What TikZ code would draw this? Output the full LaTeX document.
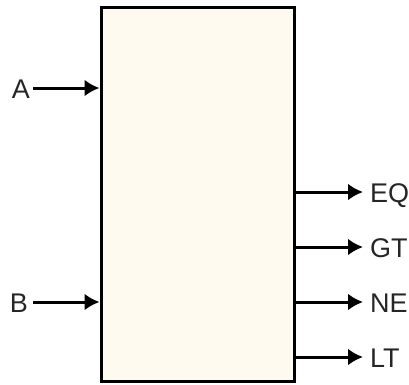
\documentclass[tikz,border=0pt]{standalone}
\usepackage{fontspec}
\setmainfont{Liberation Sans}
\usepackage{tikz}
\usetikzlibrary{arrows.meta,positioning}
\definecolor{boxfill}{RGB}{255,250,240}
\tikzset{
	every node/.style={
		font=\fontsize{27}{30}\selectfont,
		text=black!85
	},
	block/.style={
		shape=rectangle,
		minimum width=193pt,
		minimum height=374pt,
		fill=boxfill,
		draw,
		line width=3pt,
		inner sep=0pt
	},
	pinlabel/.style={
		inner sep=0pt,
		text height=20pt,
		text depth=0pt
	},
	myarrow/.style={-{Latex[length=15pt,width=17pt]},line width=3pt},
}
\begin{document}
\begin{tikzpicture}[x=1pt,y=-1pt]
	\useasboundingbox (0,0) rectangle (409,384);
	
	\node[block]                      (cmp) at (197.5,194.5) {};
	\node[pinlabel,anchor=east]       (A)   at (30,88)  {A};
	\node[pinlabel,anchor=east]       (B)   at (28,302) {B};
	\node[pinlabel,anchor=west]       (EQ)  at (370,192) {EQ};
	\node[pinlabel,anchor=west]       (GT)  at (370,247) {GT};
	\node[pinlabel,anchor=west]       (NE)  at (370,302) {NE};
	\node[pinlabel,anchor=west]       (LT)  at (370,357) {LT};
	
	\draw[myarrow] ([xshift=3pt]A.east) -- (A -| cmp.west);
	\draw[myarrow] ([xshift=5pt]B.east) -- (B -| cmp.west);
	\foreach \o in {EQ,GT,NE,LT}
		\draw[myarrow] (\o -| cmp.east) -- ([xshift=-7pt]\o.west);
\end{tikzpicture}
\end{document}
